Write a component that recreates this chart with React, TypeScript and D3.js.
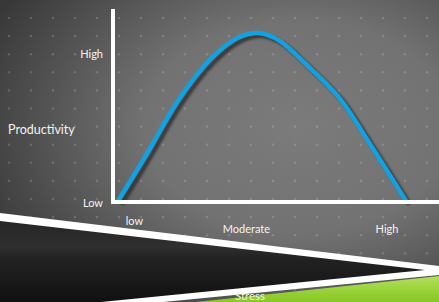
import * as d3 from 'd3';
import { useEffect, useRef } from 'react';

// stress level (0 = none, 100 = extreme) vs productivity (0..100)
const stressLevels = [0, 9.8, 21.4, 33, 42, 49, 56, 64.9, 76.5, 88.1, 100];
const productivity = [0, 27.4, 61.1, 85.9, 97.5, 100, 95.5, 82, 62.1, 32.3, 0];

const xTickLabels = ['low', 'Moderate', 'High'];
const xTickValues = [5.7, 44.6, 93.4];
const yTickLabels = ['Low', 'High'];
const yTickValues = [0, 87.5];
const yTitle = 'Productivity';
const xTitle = 'Stress';

const App = () => {
    const ref = useRef<any>();
    const dims: any = { width: 439, height: 302 };

    useEffect(() => {
        const svg = d3.select(ref.current);
        svg.selectAll('*').remove();
        svg.attr('width', dims.width).attr('height', dims.height);

        const x = d3.scaleLinear().domain([0, 100]).range([118, 406]);
        const y = d3.scaleLinear().domain([0, 100]).range([201, 33]);
        const axisX = x(0) - 5;
        const axisY = y(0) + 1;

        const defs = svg.append('defs');
        const bg = defs.append('radialGradient').attr('id', 'bg')
            .attr('cx', '68%').attr('cy', '42%').attr('r', '78%');
        bg.append('stop').attr('offset', '0%').attr('stop-color', '#7b7b7b');
        bg.append('stop').attr('offset', '45%').attr('stop-color', '#727272');
        bg.append('stop').attr('offset', '100%').attr('stop-color', '#383838');

        const dark = defs.append('linearGradient').attr('id', 'dark')
            .attr('x1', 0).attr('y1', 0).attr('x2', 0).attr('y2', 1);
        dark.append('stop').attr('offset', '0%').attr('stop-color', '#262626');
        dark.append('stop').attr('offset', '28%').attr('stop-color', '#2f2f2f');
        dark.append('stop').attr('offset', '40%').attr('stop-color', '#232323');
        dark.append('stop').attr('offset', '100%').attr('stop-color', '#0c0c0c');

        const green = defs.append('linearGradient').attr('id', 'green')
            .attr('x1', 0).attr('y1', 0).attr('x2', 0).attr('y2', 1);
        green.append('stop').attr('offset', '0%').attr('stop-color', '#b2e05a');
        green.append('stop').attr('offset', '45%').attr('stop-color', '#8fcb2c');
        green.append('stop').attr('offset', '100%').attr('stop-color', '#72b81a');

        defs.append('filter').attr('id', 'blur')
            .append('feGaussianBlur').attr('stdDeviation', 0.8);

        // background + dot grid
        svg.append('rect').attr('width', dims.width).attr('height', dims.height).attr('fill', 'url(#bg)');
        const dotsX = d3.range(9, dims.width, 22);
        const dotsY = d3.range(18, dims.height, 18.1);
        svg.append('g').selectAll('circle')
            .data(d3.cross(dotsX, dotsY))
            .join('circle')
            .attr('cx', (d: any) => d[0])
            .attr('cy', (d: any) => d[1])
            .attr('r', 1.3)
            .attr('fill', '#fff')
            .attr('opacity', 0.16);

        // curve
        const pts = stressLevels.map((s, i) => [s, productivity[i]]);
        const line = d3.line<any>()
            .x((d) => x(d[0]))
            .y((d) => y(d[1]))
            .curve(d3.curveCatmullRom.alpha(0.5));

        svg.append('path').attr('d', line(pts))
            .attr('fill', 'none')
            .attr('stroke', '#262626')
            .attr('stroke-opacity', 0.75)
            .attr('stroke-width', 4.5)
            .attr('transform', 'translate(3.5,3)')
            .attr('filter', 'url(#blur)');
        svg.append('path').attr('d', line(pts))
            .attr('fill', 'none')
            .attr('stroke', '#12a2e2')
            .attr('stroke-width', 4.5)
            .attr('stroke-linecap', 'round');

        // axes
        svg.append('line')
            .attr('x1', axisX).attr('x2', axisX)
            .attr('y1', 9).attr('y2', axisY + 2)
            .attr('stroke', '#fff').attr('stroke-width', 4);
        svg.append('line')
            .attr('x1', axisX - 2).attr('x2', dims.width)
            .attr('y1', axisY).attr('y2', axisY)
            .attr('stroke', '#fff').attr('stroke-width', 4);

        const font = 'Lato, "Gill Sans", sans-serif';

        svg.append('g').selectAll('text')
            .data(yTickLabels)
            .join('text')
            .attr('x', axisX - 10)
            .attr('y', (d: any, i: number) => y(yTickValues[i]) + (i === 0 ? 6 : 4))
            .attr('text-anchor', 'end')
            .attr('font-family', font)
            .attr('font-size', 11)
            .attr('fill', '#f4f4f4')
            .text((d: any) => d);

        svg.append('text')
            .attr('x', 8).attr('y', y(43) + 5)
            .attr('font-family', font)
            .attr('font-size', 12.5)
            .attr('fill', '#f4f4f4')
            .text(yTitle);

        svg.append('g').selectAll('text')
            .data(xTickLabels)
            .join('text')
            .attr('x', (d: any, i: number) => x(xTickValues[i]))
            .attr('y', (d: any, i: number) => axisY + (i === 0 ? 23 : 31))
            .attr('text-anchor', 'middle')
            .attr('font-family', font)
            .attr('font-size', 11)
            .attr('fill', '#f4f4f4')
            .text((d: any) => d);

        // decorative wedges at the bottom
        svg.append('polygon')
            .attr('points', '0,213 439,266 439,275 0,318')
            .attr('fill', '#fff');
        svg.append('polygon')
            .attr('points', '0,221 425,270 0,312')
            .attr('fill', 'url(#dark)');
        svg.append('polygon')
            .attr('points', '0,323 439,276 439,310 0,310')
            .attr('fill', 'url(#green)');

        svg.append('text')
            .attr('x', 250).attr('y', 300)
            .attr('text-anchor', 'middle')
            .attr('font-family', font)
            .attr('font-size', 11.5)
            .attr('fill', '#eef8e2')
            .text(xTitle);
    }, []);

    return (
        <svg ref={ref} style={{ position: 'absolute', left: 0, top: 0, display: 'block' }}></svg>
    );
};

export default App;
